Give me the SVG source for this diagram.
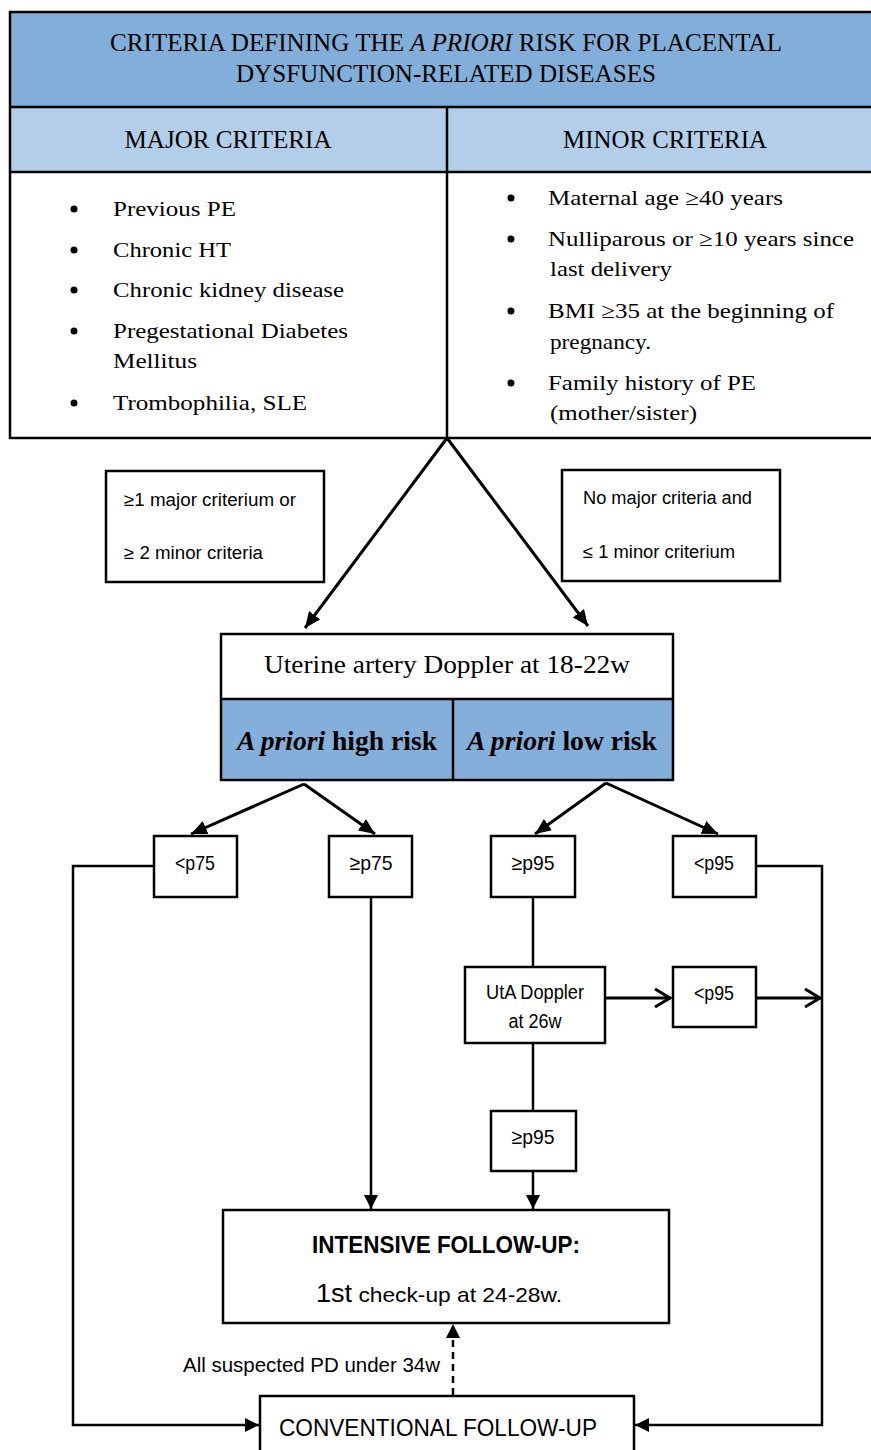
<svg xmlns="http://www.w3.org/2000/svg" width="871" height="1450" viewBox="0 0 871 1450">
<defs>
<style>
.serif{font-family:"Liberation Serif","Times New Roman",serif;fill:#000}
.sans{font-family:"Liberation Sans",Arial,sans-serif;fill:#000}
.box{fill:#fff;stroke:#000;stroke-width:2.5}
.tb{stroke:#000;stroke-width:2.5;fill:none}
.ln{stroke:#000;stroke-width:2.5;fill:none}
.thick{stroke:#000;stroke-width:3;fill:none}
</style>
<marker id="fa" markerUnits="userSpaceOnUse" viewBox="0 0 16 14" refX="16" refY="7" markerWidth="16" markerHeight="14" orient="auto"><path d="M0,0 L16,7 L0,14 z" fill="#000"/></marker>
<marker id="fs" markerUnits="userSpaceOnUse" viewBox="0 0 14 14" refX="14" refY="7" markerWidth="14" markerHeight="14" orient="auto"><path d="M0,0 L14,7 L0,14 z" fill="#000"/></marker>
<marker id="oa" markerUnits="userSpaceOnUse" viewBox="0 0 18 20" refX="17" refY="10" markerWidth="18" markerHeight="20" orient="auto"><path d="M1,1 L16,10 L1,19" fill="none" stroke="#000" stroke-width="3"/></marker>
</defs>

<g id="criteria-table">
<rect x="10" y="12" width="870" height="95" fill="#82AFDA"/>
<rect x="10" y="107" width="870" height="65" fill="#B3CEE9"/>
<rect x="10" y="172" width="870" height="266" fill="#fff"/>
<path class="tb" d="M880,12 H10 V438 H880 M10,107 H880 M10,172 H880 M447,107 V438"/>
<text class="serif" x="446" y="51" font-size="25" text-anchor="middle" textLength="672" lengthAdjust="spacingAndGlyphs">CRITERIA DEFINING THE <tspan font-style="italic">A PRIORI</tspan> RISK FOR PLACENTAL</text>
<text class="serif" x="446" y="82" font-size="25" text-anchor="middle" textLength="420" lengthAdjust="spacingAndGlyphs">DYSFUNCTION-RELATED DISEASES</text>
<text class="serif" x="228" y="148" font-size="26" text-anchor="middle" textLength="207" lengthAdjust="spacingAndGlyphs">MAJOR CRITERIA</text>
<text class="serif" x="665" y="148" font-size="26" text-anchor="middle" textLength="204" lengthAdjust="spacingAndGlyphs">MINOR CRITERIA</text>
<g fill="#000">
<circle cx="74" cy="209" r="3.5"/><circle cx="74" cy="250" r="3.5"/><circle cx="74" cy="290" r="3.5"/><circle cx="74" cy="331" r="3.5"/><circle cx="74" cy="403" r="3.5"/>
<circle cx="511" cy="198" r="3.5"/><circle cx="511" cy="239" r="3.5"/><circle cx="511" cy="311" r="3.5"/><circle cx="511" cy="383" r="3.5"/>
</g>
<g class="serif" font-size="22">
<text x="113" y="216" textLength="123" lengthAdjust="spacingAndGlyphs">Previous PE</text>
<text x="113" y="257" textLength="118" lengthAdjust="spacingAndGlyphs">Chronic HT</text>
<text x="113" y="297" textLength="231" lengthAdjust="spacingAndGlyphs">Chronic kidney disease</text>
<text x="113" y="338" textLength="235" lengthAdjust="spacingAndGlyphs">Pregestational Diabetes</text>
<text x="113" y="368" textLength="84" lengthAdjust="spacingAndGlyphs">Mellitus</text>
<text x="113" y="410" textLength="194" lengthAdjust="spacingAndGlyphs">Trombophilia, SLE</text>
<text x="548" y="205" textLength="235" lengthAdjust="spacingAndGlyphs">Maternal age ≥40 years</text>
<text x="548" y="246" textLength="306" lengthAdjust="spacingAndGlyphs">Nulliparous or ≥10 years since</text>
<text x="550" y="276" textLength="122" lengthAdjust="spacingAndGlyphs">last delivery</text>
<text x="548" y="318" textLength="286" lengthAdjust="spacingAndGlyphs">BMI ≥35 at the beginning of</text>
<text x="550" y="349" textLength="101" lengthAdjust="spacingAndGlyphs">pregnancy.</text>
<text x="548" y="390" textLength="208" lengthAdjust="spacingAndGlyphs">Family history of PE</text>
<text x="550" y="420" textLength="147" lengthAdjust="spacingAndGlyphs">(mother/sister)</text>
</g>
</g>

<g id="connectors">
<line class="thick" x1="447" y1="438" x2="305" y2="628" marker-end="url(#fa)"/>
<line class="thick" x1="447" y1="438" x2="588" y2="626" marker-end="url(#fa)"/>
<line class="thick" x1="304" y1="784" x2="191" y2="834" marker-end="url(#fa)"/>
<line class="thick" x1="304" y1="784" x2="375" y2="834" marker-end="url(#fa)"/>
<line class="thick" x1="606" y1="783" x2="535" y2="834" marker-end="url(#fa)"/>
<line class="thick" x1="606" y1="783" x2="718" y2="834" marker-end="url(#fa)"/>
<polyline class="ln" points="154,866 73,866 73,1425 259,1425" marker-end="url(#fs)"/>
<polyline class="ln" points="756,866 822,866 822,1425 635,1425" marker-end="url(#fs)"/>
<line class="ln" x1="371" y1="897" x2="371" y2="1209" marker-end="url(#fs)"/>
<line class="ln" x1="533" y1="897" x2="533" y2="967"/>
<line class="ln" x1="533" y1="1043" x2="533" y2="1111"/>
<line class="ln" x1="533" y1="1171" x2="533" y2="1209" marker-end="url(#fs)"/>
<line class="thick" x1="605" y1="998" x2="671" y2="998" marker-end="url(#oa)"/>
<line class="thick" x1="756" y1="998" x2="821" y2="998" marker-end="url(#oa)"/>
<line class="ln" x1="453" y1="1395" x2="453" y2="1324" stroke-dasharray="7,5" marker-end="url(#fs)"/>
<text class="sans" x="440" y="1372" font-size="21" text-anchor="end" textLength="257" lengthAdjust="spacingAndGlyphs">All suspected PD under 34w</text>
</g>

<g id="high-criteria">
<rect class="box" x="106" y="471" width="218" height="111"/>
<text class="sans" x="124" y="506" font-size="18" textLength="172" lengthAdjust="spacingAndGlyphs">≥1 major criterium or</text>
<text class="sans" x="124" y="559" font-size="18" textLength="139" lengthAdjust="spacingAndGlyphs">≥ 2 minor criteria</text>
</g>
<g id="low-criteria">
<rect class="box" x="562" y="470" width="218" height="111"/>
<text class="sans" x="583" y="504" font-size="18" textLength="169" lengthAdjust="spacingAndGlyphs">No major criteria and</text>
<text class="sans" x="583" y="558" font-size="18" textLength="152" lengthAdjust="spacingAndGlyphs">≤ 1 minor criterium</text>
</g>

<g id="doppler-18-22">
<rect x="221" y="634" width="452" height="65" fill="#fff"/>
<rect x="221" y="699" width="452" height="81" fill="#84AFDA"/>
<path class="tb" d="M221,634 H673 V780 H221 Z M221,699 H673 M453,699 V780"/>
<text class="serif" x="447" y="673" font-size="26" text-anchor="middle" textLength="366" lengthAdjust="spacingAndGlyphs">Uterine artery Doppler at 18-22w</text>
<text class="serif" x="337" y="750" font-size="27" font-weight="bold" text-anchor="middle" textLength="200" lengthAdjust="spacingAndGlyphs"><tspan font-style="italic">A priori</tspan> high risk</text>
<text class="serif" x="562" y="750" font-size="27" font-weight="bold" text-anchor="middle" textLength="190" lengthAdjust="spacingAndGlyphs"><tspan font-style="italic">A priori</tspan> low risk</text>
</g>

<g id="lt-p75">
<rect class="box" x="154" y="836" width="83" height="61"/>
<text class="sans" x="195" y="870" font-size="21" text-anchor="middle" textLength="40" lengthAdjust="spacingAndGlyphs">&lt;p75</text>
</g>
<g id="ge-p75">
<rect class="box" x="329" y="836" width="83" height="61"/>
<text class="sans" x="371" y="870" font-size="21" text-anchor="middle" textLength="43" lengthAdjust="spacingAndGlyphs">≥p75</text>
</g>
<g id="ge-p95">
<rect class="box" x="491" y="836" width="84" height="61"/>
<text class="sans" x="533" y="870" font-size="21" text-anchor="middle" textLength="43" lengthAdjust="spacingAndGlyphs">≥p95</text>
</g>
<g id="lt-p95">
<rect class="box" x="673" y="836" width="83" height="61"/>
<text class="sans" x="714" y="870" font-size="21" text-anchor="middle" textLength="40" lengthAdjust="spacingAndGlyphs">&lt;p95</text>
</g>
<g id="uta-26w">
<rect class="box" x="465" y="967" width="140" height="76"/>
<text class="sans" x="535" y="999" font-size="20" text-anchor="middle" textLength="98" lengthAdjust="spacingAndGlyphs">UtA Doppler</text>
<text class="sans" x="535" y="1028" font-size="20" text-anchor="middle" textLength="53" lengthAdjust="spacingAndGlyphs">at 26w</text>
</g>
<g id="lt-p95-26w">
<rect class="box" x="673" y="967" width="83" height="60"/>
<text class="sans" x="714" y="1000" font-size="21" text-anchor="middle" textLength="40" lengthAdjust="spacingAndGlyphs">&lt;p95</text>
</g>
<g id="ge-p95-26w">
<rect class="box" x="491" y="1111" width="85" height="60"/>
<text class="sans" x="533" y="1144" font-size="21" text-anchor="middle" textLength="43" lengthAdjust="spacingAndGlyphs">≥p95</text>
</g>

<g id="intensive">
<rect class="box" x="223" y="1210" width="446" height="113"/>
<text class="sans" x="446" y="1253" font-size="24" font-weight="bold" text-anchor="middle" textLength="268" lengthAdjust="spacingAndGlyphs">INTENSIVE FOLLOW-UP:</text>
<text class="sans" x="439" y="1302" font-size="21" text-anchor="middle" textLength="246" lengthAdjust="spacingAndGlyphs"><tspan font-size="25">1st</tspan> check-up at 24-28w.</text>
</g>

<g id="conventional">
<rect class="box" x="260" y="1396" width="374" height="70"/>
<text class="sans" x="438" y="1436" font-size="24" text-anchor="middle" textLength="318" lengthAdjust="spacingAndGlyphs">CONVENTIONAL FOLLOW-UP</text>
</g>
</svg>
